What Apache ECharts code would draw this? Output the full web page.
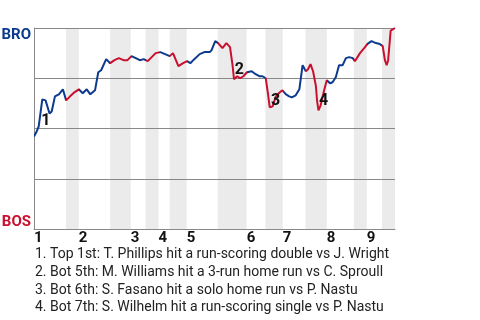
<!DOCTYPE html>
<html>
<head>
<meta charset="utf-8">
<script src="https://cdn.jsdelivr.net/npm/echarts@6/dist/echarts.min.js"></script>
<style>html,body{margin:0;padding:0;background:#fff}#c{width:480px;height:320px}</style>
</head>
<body>
<div id="c"></div>
<script>
// ---- Data (game progress 0..100, BRO win probability %) ----
const inningNames = ['1','2','3','4','5','6','7','8','9'];
const topStarts = [0, 12.4, 26.8, 34.5, 42.3, 58.9, 68.9, 81.1, 92.2];
const botStarts = [8.9, 21.1, 30.9, 37.6, 50.9, 64.1, 75.2, 88.6, 96.4];
const gameEnd = 100;

const progress = [0,0.6,1.3,2.3,3.2,4.3,4.9,5.8,6.9,8.0,8.9,10.0,11.2,12.4,13.5,14.6,15.6,16.9,17.8,18.6,19.1,20.0,21.1,22.3,23.5,24.8,25.9,27.0,28.2,29.3,30.4,31.5,32.6,33.7,35.0,36.3,37.6,38.5,40.0,41.3,42.4,43.3,44.4,45.9,47.2,48.7,49.2,50.2,51.0,52.2,53.3,54.3,55.0,55.4,56.3,57.1,58.0,59.0,60.3,61.4,62.4,63.3,64.2,64.8,65.3,66.1,67.0,68.1,68.8,69.8,70.7,71.4,72.5,73.5,74.4,75.3,75.9,76.6,77.3,78.1,78.4,78.8,79.4,80.3,81.1,82.0,82.7,83.6,84.5,85.5,86.4,87.3,88.3,88.9,90.3,91.7,92.3,93.5,94.7,95.8,96.6,97.2,97.7,98.1,98.8,100];
const broWinPct = [46,48,51,64.5,64,57.5,58.5,66,67,69.5,64,66,68,69.5,67.5,69.5,67,69,78,79,79.5,84.5,82.5,84,85,84,84,86,85,84,84.5,83.5,85.5,87.5,88,87,86,87.5,81,82.5,83.5,82.5,84.5,87,88,88,89,93.5,92.5,90,92.5,90.5,81.5,74.5,76,75,76,78,78.5,77,76,76,75,67.5,60.5,61,66,68,69,67,66,65.5,66.5,69.5,81.5,78.5,79.5,82,78.5,71,64,59,61.5,68.5,74,72.5,73,75.5,81.5,81.5,85,85.5,85,83.5,87.5,90.5,92,93.5,92.5,92,91,84,81.5,84,98.7,100];

const noteIds = ['1','2','3','4'];
const noteX = [3.3, 56.9, 66.9, 80.2];
const noteY = [53.5, 78.9, 63.9, 63.7];

const captions = [
  '1. Top 1st: T. Phillips hit a run-scoring double vs J. Wright',
  '2. Bot 5th: M. Williams hit a 3-run home run vs C. Sproull',
  '3. Bot 6th: S. Fasano hit a solo home run vs P. Nastu',
  '4. Bot 7th: S. Wilhelm hit a run-scoring single vs P. Nastu'
];

const BLUE = '#0b3a8e';
const RED = '#c8102e';
const FONT = 'Roboto';

const lineData = progress.map((x, i) => [x, broWinPct[i]]);
const noteData = noteIds.map((n, i) => ({ name: n, value: [noteX[i], noteY[i]] }));

const pieces = [];
const bands = [];
for (let i = 0; i < topStarts.length; i++) {
  const nextTop = i + 1 < topStarts.length ? topStarts[i + 1] : gameEnd + 1;
  pieces.push({ gte: topStarts[i], lt: botStarts[i], color: BLUE });
  pieces.push({ gte: botStarts[i], lt: nextTop, color: RED });
  bands.push([{ xAxis: botStarts[i] }, { xAxis: Math.min(nextTop, gameEnd) }]);
}

const chart = echarts.init(document.getElementById('c'), null, { renderer: 'canvas' });
chart.setOption({
  animation: false,
  textStyle: { fontFamily: FONT },
  title: {
    text: captions.join('\n'),
    left: 35, top: 245.5, padding: 0,
    textStyle: { fontFamily: FONT, fontSize: 14, fontWeight: 'normal', color: '#222', lineHeight: 17.8 }
  },
  grid: { left: 34, right: 85, top: 28, bottom: 91, containLabel: false, outerBoundsMode: 'none' },
  xAxis: {
    type: 'value', min: 0, max: gameEnd, z: 1.5,
    axisLine: { show: true, lineStyle: { color: '#888', width: 1 } },
    axisTick: { show: false },
    splitLine: { show: false },
    axisLabel: {
      customValues: topStarts,
      formatter: (v) => { const k = topStarts.indexOf(v); return k >= 0 ? inningNames[k] : ''; },
      align: 'left', margin: 2,
      fontFamily: FONT, fontSize: 15, fontWeight: 'bold', color: '#111'
    }
  },
  yAxis: {
    type: 'value', min: 0, max: 100, interval: 25, z: 1.5,
    axisLine: { show: true, lineStyle: { color: '#888', width: 1 } },
    axisTick: { show: false },
    splitLine: { show: true, lineStyle: { color: '#888', width: 1 } },
    axisLabel: {
      margin: 3,
      formatter: (v) => v === 100 ? '{a|BRO}' : (v === 0 ? '{b|BOS}' : ''),
      rich: {
        a: { color: BLUE, fontFamily: FONT, fontWeight: 'bold', fontSize: 15, padding: [15, 0, 0, 0] },
        b: { color: RED, fontFamily: FONT, fontWeight: 'bold', fontSize: 15, padding: [0, 0, 13, 0] }
      }
    }
  },
  visualMap: {
    show: false, type: 'piecewise', seriesIndex: 1, dimension: 0, pieces: pieces
  },
  series: [
    {
      type: 'line', data: [], silent: true,
      markArea: { silent: true, itemStyle: { color: '#ebebeb' }, data: bands }
    },
    {
      type: 'line', data: lineData, showSymbol: false, symbol: 'none', z: 3,
      lineStyle: { width: 2 }
    },
    {
      type: 'scatter', data: noteData, symbolSize: 1, z: 4, silent: true,
      itemStyle: { color: 'rgba(0,0,0,0)' },
      label: {
        show: true, position: 'inside', formatter: (p) => p.name,
        fontFamily: FONT, fontSize: 16, fontWeight: 'bold', color: '#111',
        textBorderWidth: 0, textBorderColor: 'rgba(0,0,0,0)', opacity: 1
      }
    }
  ]
});
</script>
</body>
</html>
